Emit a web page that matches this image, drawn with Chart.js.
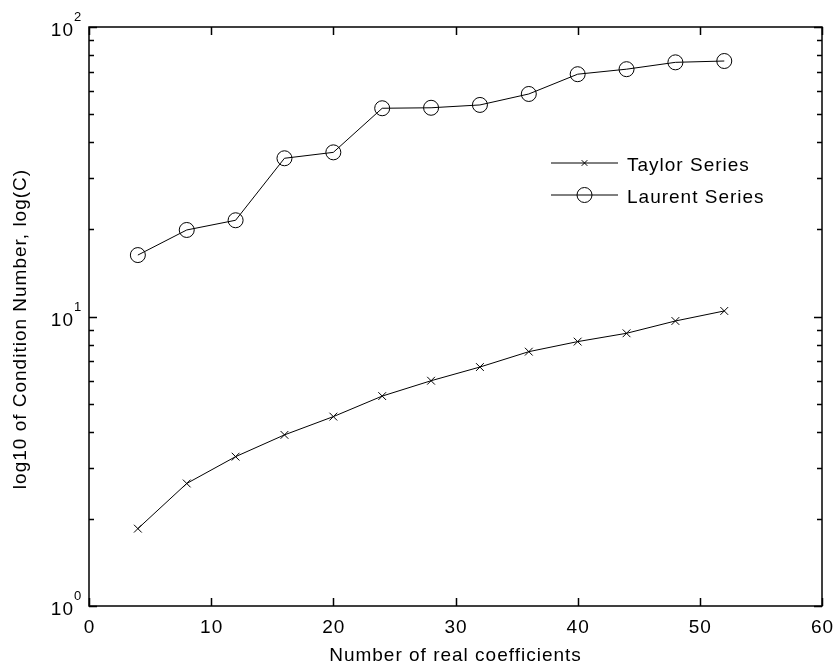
<!DOCTYPE html>
<html>
<head>
<meta charset="utf-8">
<script src="https://cdn.jsdelivr.net/npm/chart.js@4.4.0/dist/chart.umd.min.js"></script>
<style>
  html, body { margin: 0; padding: 0; background: #fff; }
  canvas { display: block; }
</style>
</head>
<body>
<canvas id="condChart" width="837" height="668"></canvas>
<script>
// condition number vs. number of real coefficients
const coeffCounts = [4, 8, 12, 16, 20, 24, 28, 32, 36, 40, 44, 48, 52];
const taylorValues = [1.85, 2.65, 3.28, 3.90, 4.51, 5.31, 6.00, 6.69, 7.56, 8.19, 8.75, 9.65, 10.45];
const laurentValues = [16.3, 19.9, 21.5, 35.2, 36.9, 52.4, 52.6, 53.8, 58.7, 68.7, 71.5, 75.5, 76.3];
const xTicks = [0, 10, 20, 30, 40, 50, 60];
const yDecades = [0, 1, 2];
const seriesNames = ['Taylor Series', 'Laurent Series'];
const xTitle = 'Number of real coefficients';
const yTitle = 'log10 of Condition Number, log(C)';

const FONT = "'Liberation Sans', Arial, sans-serif";

function setFont(ctx, size) {
    ctx.font = size + 'px ' + FONT;
    ctx.letterSpacing = size >= 16 ? '1px' : '0px';
}

// boxed axes with inward ticks, 10^n labels, axis titles and an unboxed legend
const matlabAxes = {
    id: 'matlabAxes',
    afterDraw(chart) {
        const ctx = chart.ctx;
        const { left, right, top, bottom } = chart.chartArea;
        const xs = chart.scales.x;
        const ys = chart.scales.y;

        ctx.save();
        ctx.strokeStyle = '#000';
        ctx.lineWidth = 1.5;
        ctx.strokeRect(left, top, right - left, bottom - top);

        ctx.beginPath();
        xTicks.forEach(v => {
            const px = Math.round(xs.getPixelForValue(v)) + 0.5;
            ctx.moveTo(px, bottom); ctx.lineTo(px, bottom - 8);
            ctx.moveTo(px, top); ctx.lineTo(px, top + 8);
        });
        yDecades.forEach(d => {
            const py = Math.round(ys.getPixelForValue(Math.pow(10, d))) + 0.5;
            ctx.moveTo(left, py); ctx.lineTo(left + 8, py);
            ctx.moveTo(right, py); ctx.lineTo(right - 8, py);
        });
        for (let d = 0; d < yDecades.length - 1; d++) {
            for (let k = 2; k <= 9; k++) {
                const py = Math.round(ys.getPixelForValue(k * Math.pow(10, d))) + 0.5;
                ctx.moveTo(left, py); ctx.lineTo(left + 5, py);
                ctx.moveTo(right, py); ctx.lineTo(right - 5, py);
            }
        }
        ctx.stroke();

        ctx.fillStyle = '#000';
        ctx.textBaseline = 'alphabetic';

        // x tick labels
        setFont(ctx, 19);
        ctx.textAlign = 'center';
        xTicks.forEach(v => {
            ctx.fillText(String(v), xs.getPixelForValue(v) + 0.5, bottom + 27);
        });

        // y tick labels as 10 with a raised exponent
        yDecades.forEach(d => {
            const py = ys.getPixelForValue(Math.pow(10, d));
            setFont(ctx, 19);
            ctx.textAlign = 'right';
            ctx.fillText('10', left - 15, py + 9);
            setFont(ctx, 13);
            ctx.textAlign = 'left';
            ctx.fillText(String(d), left - 15, py - 6);
        });

        // axis titles
        setFont(ctx, 19);
        ctx.textAlign = 'center';
        ctx.fillText(xTitle, (left + right) / 2, 661);
        ctx.save();
        ctx.translate(26, 329);
        ctx.rotate(-Math.PI / 2);
        ctx.fillText(yTitle, 0, 0);
        ctx.restore();

        // legend
        chart.data.datasets.forEach((ds, i) => {
            const rowY = 163 + i * 32;
            ctx.lineWidth = 1;
            ctx.beginPath();
            ctx.moveTo(551, rowY); ctx.lineTo(618, rowY);
            ctx.stroke();
            ctx.fillStyle = 'rgba(0,0,0,0)';
            Chart.helpers.drawPoint(ctx, {
                pointStyle: ds.pointStyle,
                radius: ds.pointStyle === 'crossRot' ? 4 : ds.pointRadius,
                borderWidth: 1,
                rotation: 0
            }, 584.5, rowY);
            ctx.fillStyle = '#000';
            setFont(ctx, 19);
            ctx.textAlign = 'left';
            ctx.fillText(ds.label, 627, rowY + 8);
        });
        ctx.restore();
    }
};

new Chart(document.getElementById('condChart'), {
    type: 'line',
    data: {
        datasets: [
            {
                label: seriesNames[0],
                data: coeffCounts.map((x, i) => ({ x, y: taylorValues[i] })),
                borderColor: '#000',
                borderWidth: 1,
                pointStyle: 'crossRot',
                pointRadius: 5.5,
                pointBorderColor: '#000',
                pointBorderWidth: 1,
                pointBackgroundColor: 'rgba(0,0,0,0)',
                tension: 0,
                fill: false
            },
            {
                label: seriesNames[1],
                data: coeffCounts.map((x, i) => ({ x, y: laurentValues[i] })),
                borderColor: '#000',
                borderWidth: 1,
                pointStyle: 'circle',
                pointRadius: 7.5,
                pointBorderColor: '#000',
                pointBorderWidth: 1,
                pointBackgroundColor: 'rgba(0,0,0,0)',
                tension: 0,
                fill: false
            }
        ]
    },
    options: {
        responsive: false,
        animation: false,
        events: [],
        layout: { padding: { top: 27, right: 15, left: 0, bottom: 0 } },
        plugins: {
            legend: { display: false },
            tooltip: { enabled: false }
        },
        scales: {
            x: {
                type: 'linear',
                min: 0,
                max: 60,
                afterFit: scale => { scale.height = 62; },
                grid: { display: false },
                border: { display: false },
                ticks: { display: false }
            },
            y: {
                type: 'logarithmic',
                min: 1,
                max: 100,
                afterFit: scale => { scale.width = 89; },
                grid: { display: false },
                border: { display: false },
                ticks: { display: false }
            }
        }
    },
    plugins: [matlabAxes]
});
</script>
</body>
</html>
